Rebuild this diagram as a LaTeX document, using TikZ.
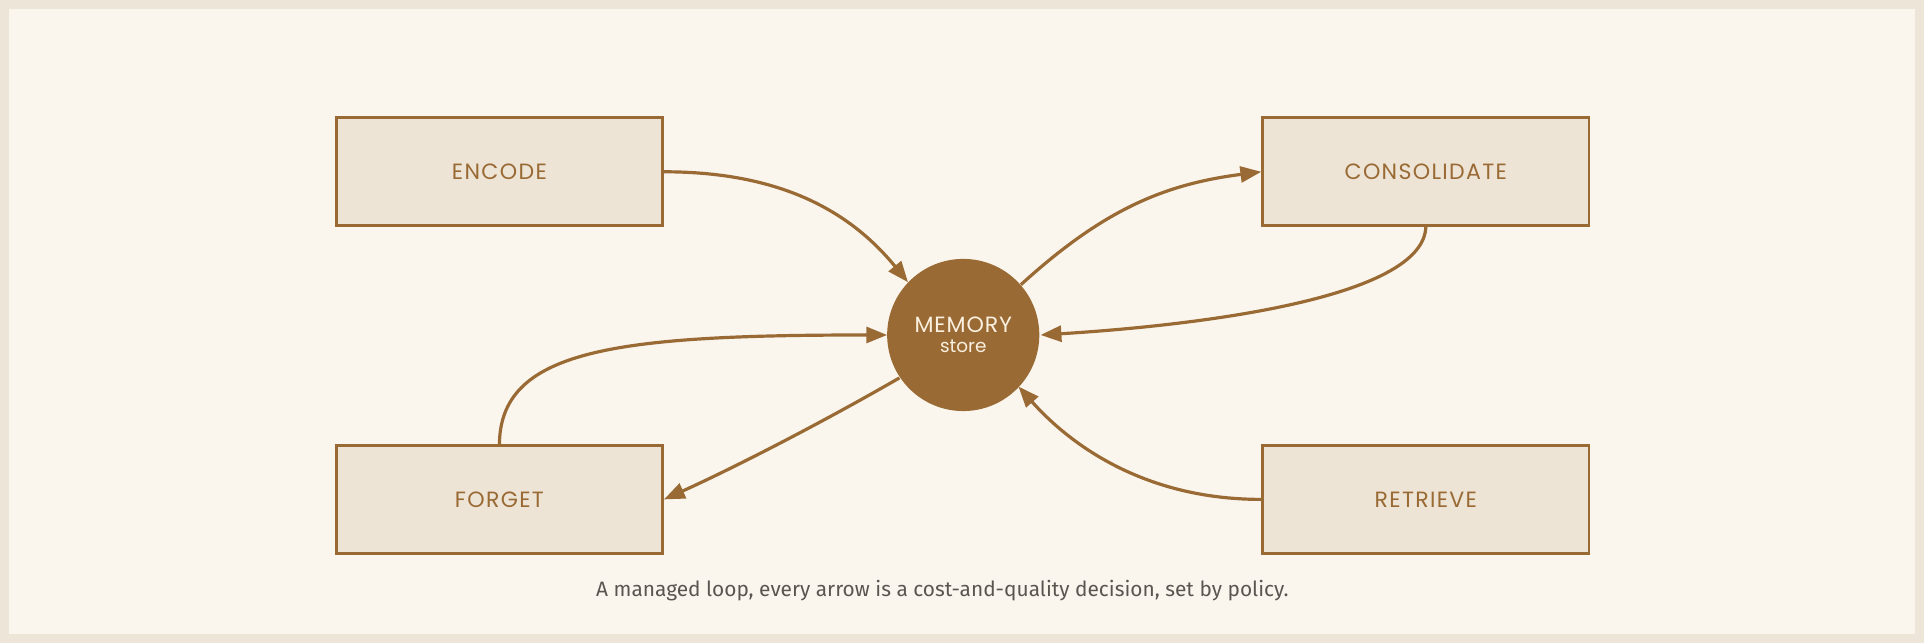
\documentclass[tikz,border=0pt]{standalone}
\usepackage{fontspec}
\setmainfont{Poppins}
\newfontfamily\capfont{Fira Sans}
\usetikzlibrary{arrows.meta}
\definecolor{bg}{HTML}{FAF6EE}
\definecolor{frame}{HTML}{EDE5D8}
\definecolor{brn}{HTML}{9A6A34}
\definecolor{boxf}{HTML}{EDE4D6}
\definecolor{captxt}{HTML}{5A5550}
\definecolor{cream}{HTML}{FAF0E0}
\begin{document}
\begin{tikzpicture}[x=1pt,y=-1pt,
  box/.style={draw=brn,fill=boxf,line width=2.2pt,minimum width=266pt,minimum height=88pt,text=brn,font=\fontsize{18}{22}\selectfont\addfontfeatures{LetterSpace=6}},
  conn/.style={draw=brn,line width=2.6pt,-{Triangle[length=17pt,width=13pt]}}]
\useasboundingbox (0,0) rectangle (1568,524);
\fill[frame] (0,0) rectangle (1568,524);
\fill[bg,draw=frame,line width=2pt] (6,6) rectangle (1562,518);
\node[box] (enc) at (407,140) {ENCODE};
\node[box] (con) at (1162,140) {CONSOLIDATE};
\node[box] (for) at (407,407) {FORGET};
\node[box] (ret) at (1162,407) {RETRIEVE};
\node[circle,fill=brn,minimum size=124pt,inner sep=0pt,text=cream,align=center] (mem) at (785,273)
  {{\fontsize{18}{20}\selectfont\addfontfeatures{LetterSpace=4}MEMORY}\\[4pt]{\fontsize{15}{17}\selectfont store}};
\coordinate (e1) at (740,230);
\coordinate (c1) at (832,232);
\coordinate (m1) at (848,273);
\coordinate (m2) at (723,273);
\coordinate (f1) at (733,308);
\coordinate (r1) at (830,315);
\coordinate (ct) at (1162,184);
\coordinate (ft) at (407,363);
\draw[conn] (enc.east) .. controls (640,140) and (695,175) .. (e1);
\draw[conn] (c1) .. controls (900,170) and (950,150) .. (con.west);
\draw[conn] (ct) .. controls (1162,250) and (930,268) .. (m1);
\draw[conn] (ft) .. controls (407,285) and (500,273) .. (m2);
\draw[conn] (f1) .. controls (660,350) and (590,385) .. (for.east);
\draw[conn] (ret.west) .. controls (930,407) and (870,360) .. (r1);
\node[text=captxt,font=\capfont\fontsize{17}{20}\selectfont] (cap) at (768,481) {A managed loop, every arrow is a cost-and-quality decision, set by policy.};
\end{tikzpicture}
\end{document}
